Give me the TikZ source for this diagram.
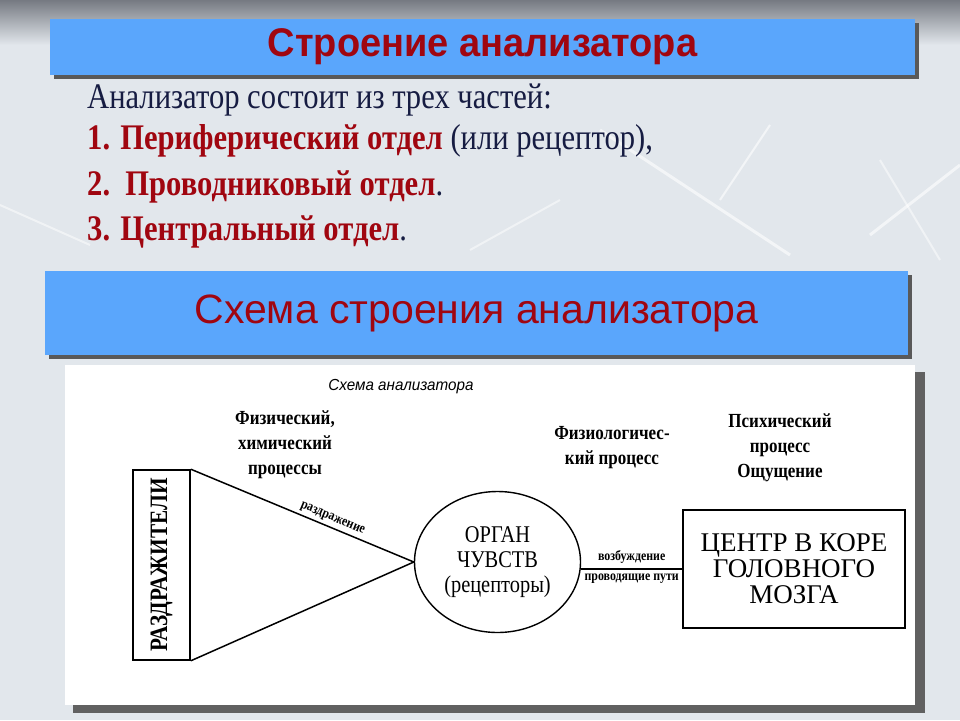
\documentclass[tikz,border=0pt]{standalone}
\usepackage{fontspec}
\setmainfont{Liberation Serif}
\setsansfont{Liberation Sans}
\newfontfamily\narrowserif[FakeStretch=0.85]{Liberation Serif}
\newfontfamily\narrowsans[FakeStretch=0.95]{Liberation Sans}
\usetikzlibrary{positioning}
\usetikzlibrary{shapes.geometric}
\usetikzlibrary{shadows}
\definecolor{sky}{RGB}{90, 166, 252}
\definecolor{mred}{RGB}{160, 6, 16}
\definecolor{navy}{RGB}{22, 28, 66}
\definecolor{bgtop}{RGB}{118, 122, 130}
\definecolor{bglight}{RGB}{226, 231, 236}
\tikzset{banner/.style = {fill = sky, inner sep = 0,
    drop shadow = {shadow xshift = 4pt, shadow yshift = -4pt, fill = black!65, opacity = 1}}}
\tikzset{lead/.style = {anchor = west, inner sep = 0, text = navy,
    font = \narrowserif\fontsize{36}{38}\selectfont}}
\tikzset{note/.style = {align = center, inner sep = 0,
    font = \narrowserif\bfseries\fontsize{20}{25}\selectfont}}
\tikzset{tiny/.style = {inner sep = 1, font = \narrowserif\bfseries\fontsize{14}{15}\selectfont}}
\tikzset{frame/.style = {draw, line width = 1.6, inner sep = 0}}

\begin{document}
\begin{tikzpicture}[x = 1pt, y = -1pt]
    \useasboundingbox (0, 0) rectangle (960, 720);
    \fill [bglight] (0, 0) rectangle (960, 720);
    \shade [top color = bgtop, bottom color = bglight] (0, 0) rectangle (960, 45);

    \draw [white, line width = 3, opacity = 0.6] (600, 130) -- (790, 255);
    \draw [white, line width = 2, opacity = 0.6] (720, 200) -- (770, 125);
    \draw [white, line width = 3, opacity = 0.6] (870, 235) -- (960, 165);
    \draw [white, line width = 2, opacity = 0.5] (880, 160) -- (940, 260);
    \draw [white, line width = 2, opacity = 0.5] (0, 205) -- (90, 245);
    \draw [white, line width = 2, opacity = 0.5] (470, 250) -- (560, 200);

    \node [banner, minimum width = 865, minimum height = 56] (head) at (482.5, 47) {};
    \node [text = mred, font = \narrowsans\bfseries\fontsize{40}{42}\selectfont] at (head) {Строение анализатора};

    \node [lead] (intro) at (87, 100) {Анализатор состоит из трех частей:};
    \node [lead] (part1) at (87, 141) {\textcolor{mred}{\bfseries 1. Периферический отдел} (или рецептор),};
    \node [lead] (part2) at (87, 187) {\textcolor{mred}{\bfseries 2.\ \ Проводниковый отдел}.};
    \node [lead] (part3) at (87, 232) {\textcolor{mred}{\bfseries 3. Центральный отдел}.};

    \node [banner, minimum width = 863, minimum height = 84] (scheme) at (476.5, 313) {};
    \node [text = mred, font = \sffamily\fontsize{41}{44}\selectfont] at (scheme) {Схема строения анализатора};

    \fill [black!62] (73, 372) rectangle (925, 713);
    \fill [white] (65, 365) rectangle (915, 705);

    \node [font = \narrowsans\itshape\fontsize{16}{18}\selectfont] (caption) at (401, 387) {Схема анализатора};
    \node [note] (phys) at (285, 445) {Физический,\\химический\\процессы};
    \node [note] (physio) at (612, 448) {Физиологичес-\\кий процесс};
    \node [note] (psych) at (780, 448) {Психический\\процесс\\Ощущение};

    \node [frame, minimum width = 57, minimum height = 190] (stim) at (161.5, 565) {};
    \node [rotate = 90, font = \narrowserif\bfseries\fontsize{25}{28}\selectfont] at (stim) {РАЗДРАЖИТЕЛИ};

    \node [ellipse, draw, line width = 1.4, minimum width = 166, minimum height = 141, align = center,
      font = \narrowserif\fontsize{24}{25}\selectfont] (organ) at (497.5, 562) {ОРГАН\\ЧУВСТВ\\(рецепторы)};

    \node [frame, minimum width = 222, minimum height = 118, align = center,
      font = \rmfamily\fontsize{27}{26}\selectfont] (cortex) at (794, 569) {ЦЕНТР В КОРЕ\\ГОЛОВНОГО\\МОЗГА};

    \draw [line width = 1.5] (stim.north east) -- node [tiny, sloped, above = 2pt, pos = 0.62] {раздражение} (organ.west);
    \draw [line width = 1.5] (stim.south east) -- (organ.west);
    \draw [line width = 2.6] (organ.east |- cortex.west) -- node [tiny, above = 3pt] {возбуждение}
      node [tiny, below = 3pt] {проводящие пути} (cortex.west);
  \end{tikzpicture}
\end{document}
